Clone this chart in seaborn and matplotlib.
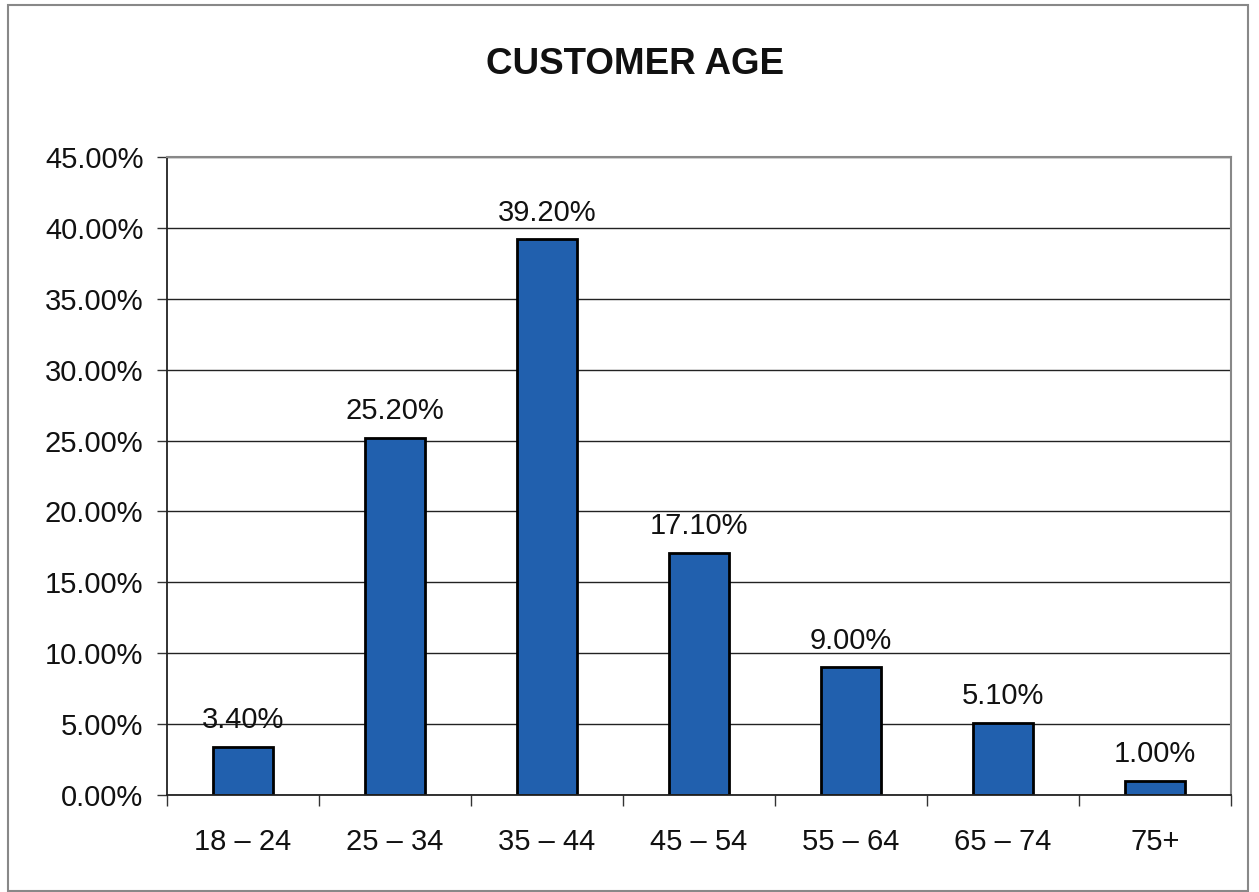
import matplotlib
matplotlib.use("Agg")
import matplotlib.pyplot as plt
import seaborn as sns
import pandas as pd
from matplotlib.patches import Rectangle
from matplotlib.ticker import FixedLocator, FuncFormatter

categories = ["18 \u2013 24", "25 \u2013 34", "35 \u2013 44", "45 \u2013 54", "55 \u2013 64", "65 \u2013 74", "75+"]
values = [3.40, 25.20, 39.20, 17.10, 9.00, 5.10, 1.00]
y_ticks = [0, 5, 10, 15, 20, 25, 30, 35, 40, 45]
title = "CUSTOMER AGE"

sns.set_style("white")
plt.rcParams['font.family'] = ['Liberation Sans', 'DejaVu Sans']

df = pd.DataFrame({"age": categories, "pct": values})

fig = plt.figure(figsize=(12.59, 8.92), dpi=100)
ax = fig.add_axes([167/1259, 1-795/892, (1231-167)/1259, (795-157)/892])

sns.barplot(data=df, x="age", y="pct", ax=ax, color="#2160AE", saturation=1,
            width=0.4, edgecolor="black", linewidth=2)

ax.set_xlim(-0.5, len(categories)-0.5)
ax.set_ylim(0, 45)
ax.set_yticks(y_ticks)
ax.yaxis.set_major_formatter(FuncFormatter(lambda v, p: f"{v:.2f}%"))
ax.grid(axis="y", color="#222222", linewidth=1.0)
ax.set_axisbelow(True)

ax.xaxis.set_minor_locator(FixedLocator([i + 0.5 for i in range(-1, len(categories))]))
ax.tick_params(axis="x", which="major", length=0, pad=24, labelsize=21, labelcolor="#111111")
ax.tick_params(axis="x", which="minor", bottom=True, length=8, width=1, color="#333333", direction="out")
ax.tick_params(axis="y", length=7, width=1, color="#333333", direction="out", pad=10, labelsize=21,
               left=True, labelcolor="#111111")
ax.set_xlabel("")
ax.set_ylabel("")

for s in ["left", "bottom"]:
    ax.spines[s].set_color("#222222")
    ax.spines[s].set_linewidth(1.3)
for s in ["top", "right"]:
    ax.spines[s].set_visible(True)
    ax.spines[s].set_color("#888888")
    ax.spines[s].set_linewidth(1.5)

for i, v in enumerate(values):
    ax.annotate(f"{v:.2f}%", (i, v), xytext=(0, 9), textcoords="offset points",
                ha="center", va="bottom", fontsize=21, color="#111111")

fig.text(635/1259, 1-65/892, title, ha="center", va="center", fontsize=26.5, fontweight="bold", color="#111111")

fig.patches.append(Rectangle((8/1259, 1-891/892), (1248-8)/1259, (891-5)/892,
                             transform=fig.transFigure, fill=False, edgecolor="#888888", linewidth=1.5))

fig.savefig("out.png", dpi=100)
